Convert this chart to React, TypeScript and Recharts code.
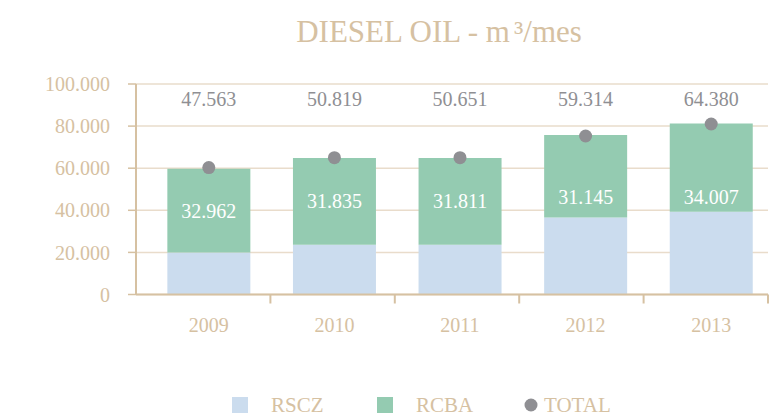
import React from "react";
import { Bar, CartesianGrid, ComposedChart, LabelList, Line, XAxis, YAxis } from "recharts";

const years = ["2009", "2010", "2011", "2012", "2013"];
const rscz = [20000, 23600, 23600, 36600, 39300];
const rcba = [39700, 41300, 41300, 39200, 41900];
const total = [60300, 65000, 65000, 75300, 81000];
const topLabels = ["47.563", "50.819", "50.651", "59.314", "64.380"];
const innerLabels = ["32.962", "31.835", "31.811", "31.145", "34.007"];
const yTicks = [0, 20000, 40000, 60000, 80000, 100000];

const FONT = "'Liberation Serif', 'Times New Roman', serif";
const TAN = "#d6c1a2";
const GRAY = "#8f8f93";
const BLUE = "#cbdcee";
const GREEN = "#94cbb1";

const W = 780;
const H = 418;
const PLOT_TOP = 84;
const PLOT_BOTTOM = 294.5;

const data = years.map((year, i) => ({
  year,
  rscz: rscz[i],
  rcba: rcba[i],
  total: total[i],
  topLabel: topLabels[i],
  innerLabel: innerLabels[i],
  pos: i + 0.5,
}));

const fmt = (v: number) => String(v).replace(/\B(?=(\d{3})+(?!\d))/g, ".");

const TopLabel = (props: any) => {
  const vb = props.viewBox ?? {};
  const x = (vb.x ?? props.x) + (vb.width ?? 0) / 2;
  return (
    <text x={x} y={PLOT_TOP + 15} textAnchor="middle" dominantBaseline="central" fill={GRAY} fontSize={20} fontFamily={FONT}>
      {props.value}
    </text>
  );
};

const InnerLabel = (props: any) => {
  const vb = props.viewBox ?? props;
  const x = vb.x + vb.width / 2;
  const y = Math.max(vb.y + vb.height / 2, PLOT_TOP + 113);
  return (
    <text x={x} y={y} textAnchor="middle" dominantBaseline="central" fill="#ffffff" fontSize={20} fontFamily={FONT}>
      {props.value}
    </text>
  );
};

const legendItems = [
  { name: "RSCZ", color: BLUE, shape: "square", x: 232 },
  { name: "RCBA", color: GREEN, shape: "square", x: 377 },
  { name: "TOTAL", color: GRAY, shape: "circle", x: 524 },
];

export default function App() {
  return (
    <div style={{ position: "absolute", left: 0, top: 0, width: W, height: H, background: "#fff", overflow: "hidden" }}>
      <ComposedChart
        width={W}
        height={H}
        data={data}
        margin={{ top: PLOT_TOP, right: 12, bottom: H - PLOT_BOTTOM - 42, left: 0 }}
        barCategoryGap="17%"
      >
        <CartesianGrid vertical={false} xAxisId="main" stroke="#e9dccb" strokeWidth={1.5} />
        {/* boundary ticks between the years, on the default axis id so it sits next to the plot */}
        <XAxis
          type="number"
          dataKey="pos"
          domain={[0, 5]}
          ticks={[1, 2, 3, 4, 5]}
          padding={{ left: 10, right: 0 }}
          height={2}
          axisLine={{ stroke: TAN, strokeWidth: 2 }}
          tick={() => <g />}
          tickSize={9}
          tickLine={{ stroke: TAN, strokeWidth: 2 }}
        />
        <XAxis
          xAxisId="main"
          dataKey="year"
          height={40}
          padding={{ left: 10, right: -6 }}
          axisLine={false}
          tickLine={false}
          tickSize={0}
          tickMargin={21}
          tick={{ fill: TAN, fontSize: 20, fontFamily: FONT }}
        />
        <YAxis
          width={136}
          domain={[0, 100000]}
          ticks={yTicks}
          tickFormatter={fmt}
          axisLine={{ stroke: TAN, strokeWidth: 2 }}
          tickLine={{ stroke: TAN, strokeWidth: 1.5 }}
          tickSize={8}
          tickMargin={18}
          tick={{ fill: TAN, fontSize: 20, fontFamily: FONT }}
        />
        <Bar xAxisId="main" dataKey="rscz" stackId="a" fill={BLUE} isAnimationActive={false} />
        <Bar xAxisId="main" dataKey="rcba" stackId="a" fill={GREEN} isAnimationActive={false}>
          <LabelList dataKey="innerLabel" content={InnerLabel} />
        </Bar>
        <Line
          xAxisId="main"
          dataKey="total"
          stroke="none"
          dot={{ r: 6.5, fill: GRAY, stroke: "none" }}
          activeDot={false}
          isAnimationActive={false}
        >
          <LabelList dataKey="topLabel" content={TopLabel} />
        </Line>
      </ComposedChart>
      <svg width={W} height={H} style={{ position: "absolute", left: 0, top: 0, pointerEvents: "none" }}>
        <text x={439} y={42} textAnchor="middle" fill={TAN} fontSize={31} fontFamily={FONT}>
          DIESEL OIL - m<tspan dx={4}>³/mes</tspan>
        </text>
        {legendItems.map((item) => (
          <g key={item.name}>
            {item.shape === "square" ? (
              <rect x={item.x} y={397} width={16} height={16} fill={item.color} />
            ) : (
              <circle cx={item.x + 7} cy={405} r={6.5} fill={item.color} />
            )}
            <text x={item.x + (item.shape === "square" ? 39 : 20)} y={412} fill={TAN} fontSize={21} fontFamily={FONT}>
              {item.name}
            </text>
          </g>
        ))}
      </svg>
    </div>
  );
}
